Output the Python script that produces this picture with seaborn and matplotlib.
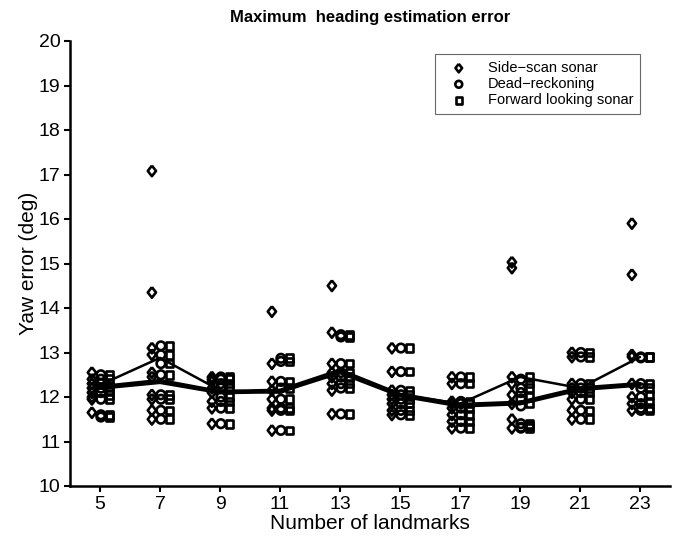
import matplotlib
matplotlib.use("Agg")
import matplotlib.pyplot as plt
import numpy as np
import pandas as pd
import seaborn as sns

sns.set_style("ticks")
plt.rcParams["font.family"] = ["Liberation Sans", "DejaVu Sans"]
plt.rcParams["text.color"] = "black"
plt.rcParams["axes.labelcolor"] = "black"

# Number of landmarks used in each experiment
landmarks = [5, 7, 9, 11, 13, 15, 17, 19, 21, 23]

# Maximum yaw error (deg) of each run, one list per landmark count
side_scan = [
    [12.55, 12.4, 12.3, 12.2, 12.1, 12.0, 11.95, 11.65],
    [17.08, 14.35, 13.1, 12.95, 12.55, 12.45, 12.05, 11.95, 11.7, 11.5],
    [12.45, 12.4, 12.35, 12.2, 12.1, 11.9, 11.75, 11.4],
    [13.92, 12.75, 12.35, 12.15, 11.95, 11.75, 11.7, 11.25],
    [14.5, 13.45, 12.75, 12.55, 12.45, 12.3, 12.15, 11.62],
    [13.1, 12.57, 12.15, 12.05, 11.95, 11.85, 11.7, 11.6],
    [12.45, 12.3, 11.9, 11.85, 11.75, 11.6, 11.45, 11.3],
    [15.03, 14.9, 12.45, 12.3, 12.05, 11.85, 11.5, 11.3],
    [13.0, 12.9, 12.3, 12.2, 12.1, 11.95, 11.7, 11.5],
    [15.9, 14.75, 12.95, 12.9, 12.3, 12.0, 11.85, 11.7],
]
dead_reckoning = [
    [12.5, 12.4, 12.3, 12.2, 12.1, 11.95, 11.6, 11.55],
    [13.15, 12.95, 12.75, 12.5, 12.05, 11.95, 11.7, 11.5],
    [12.45, 12.4, 12.3, 12.2, 12.0, 11.9, 11.75, 11.4],
    [12.87, 12.8, 12.35, 12.2, 11.95, 11.75, 11.7, 11.25],
    [13.4, 13.35, 12.75, 12.55, 12.45, 12.3, 12.2, 11.62],
    [13.1, 12.57, 12.15, 12.05, 11.95, 11.85, 11.7, 11.6],
    [12.45, 12.3, 11.9, 11.85, 11.75, 11.6, 11.45, 11.3],
    [12.4, 12.2, 12.1, 11.95, 11.8, 11.4, 11.32, 11.3],
    [13.0, 12.9, 12.3, 12.2, 12.1, 11.95, 11.7, 11.5],
    [12.9, 12.88, 12.3, 12.2, 12.0, 11.85, 11.75, 11.7],
]
forward_sonar = [
    [12.5, 12.4, 12.25, 12.15, 12.05, 11.95, 11.6, 11.55],
    [13.15, 12.95, 12.75, 12.5, 12.05, 11.95, 11.7, 11.5],
    [12.45, 12.4, 12.3, 12.2, 12.0, 11.9, 11.75, 11.4],
    [12.87, 12.8, 12.35, 12.2, 11.95, 11.75, 11.7, 11.25],
    [13.4, 13.35, 12.75, 12.55, 12.45, 12.3, 12.2, 11.62],
    [13.1, 12.57, 12.15, 12.05, 11.95, 11.85, 11.7, 11.6],
    [12.45, 12.3, 11.9, 11.85, 11.75, 11.6, 11.45, 11.3],
    [12.45, 12.3, 12.2, 12.0, 11.85, 11.4, 11.35, 11.3],
    [13.0, 12.9, 12.3, 12.2, 12.1, 11.95, 11.7, 11.5],
    [12.9, 12.9, 12.3, 12.2, 12.05, 11.9, 11.75, 11.7],
]

# Mean yaw error per landmark count
side_scan_mean = [12.27, 12.88, 12.15, 12.1, 12.6, 12.05, 11.85, 12.45, 12.2, 12.9]
dead_reckoning_mean = [12.2, 12.33, 12.1, 12.12, 12.55, 12.03, 11.8, 11.85, 12.17, 12.27]
forward_sonar_mean = [12.23, 12.37, 12.12, 12.15, 12.6, 12.06, 11.83, 11.88, 12.2, 12.3]

method_names = ["Side\u2212scan sonar", "Dead\u2212reckoning", "Forward looking sonar"]
method_runs = [side_scan, dead_reckoning, forward_sonar]
method_means = [side_scan_mean, dead_reckoning_mean, forward_sonar_mean]

# Diamond a little narrower than it is tall
diamond = [(0, 1), (0.78, 0), (0, -1), (-0.78, 0), (0, 1)]
markers = [diamond, "o", "s"]
sizes = [58, 38, 30]
offsets = [-0.27, 0.03, 0.32]

rows = []
for name, runs, off in zip(method_names, method_runs, offsets):
    for n, vals in zip(landmarks, runs):
        for v in vals:
            rows.append({"method": name, "xpos": n + off, "err": v})
points = pd.DataFrame(rows)

fig = plt.figure(figsize=(6.75, 5.37), dpi=100)
ax = fig.add_axes([70 / 675, 51 / 537, 600 / 675, 445 / 537])

for name, mk, sz in zip(method_names, markers, sizes):
    sns.scatterplot(data=points[points["method"] == name], x="xpos", y="err",
                    marker=mk, s=sz, color="black", facecolor="none",
                    edgecolor="black", linewidth=1.9, label=name, ax=ax,
                    zorder=2, legend=False)

for means, lw in zip(method_means, [1.8, 2.6, 2.6]):
    sns.lineplot(x=landmarks, y=means, color="black", lw=lw, ax=ax, zorder=3,
                 legend=False)

ax.set_xlim(4, 24)
ax.set_ylim(10, 20)
ax.set_xticks(landmarks)
ax.set_yticks(range(10, 21))
ax.tick_params(direction="out", length=4, width=1.5, labelsize=14, colors="black",
               pad=3)
for side in ["top", "right"]:
    ax.spines[side].set_visible(False)
for side in ["left", "bottom"]:
    ax.spines[side].set_linewidth(1.8)
    ax.spines[side].set_color("black")

ax.set_xlabel("Number of landmarks", fontsize=15, labelpad=1)
ax.set_ylabel("Yaw error (deg)", fontsize=15, labelpad=0)
ax.set_title("Maximum  heading estimation error", fontsize=12, fontweight="bold", pad=14)

handles = [c for c in ax.collections]
leg = ax.legend(handles, method_names, loc="upper right", bbox_to_anchor=(0.95, 0.97),
                borderaxespad=0, fontsize=10.5, frameon=True, fancybox=False,
                handletextpad=0.8, handlelength=2.4, borderpad=0.45,
                labelspacing=0.15, markerscale=0.8)
leg.get_frame().set_edgecolor("#444444")
leg.get_frame().set_linewidth(0.8)

fig.savefig("out.png", dpi=100)
